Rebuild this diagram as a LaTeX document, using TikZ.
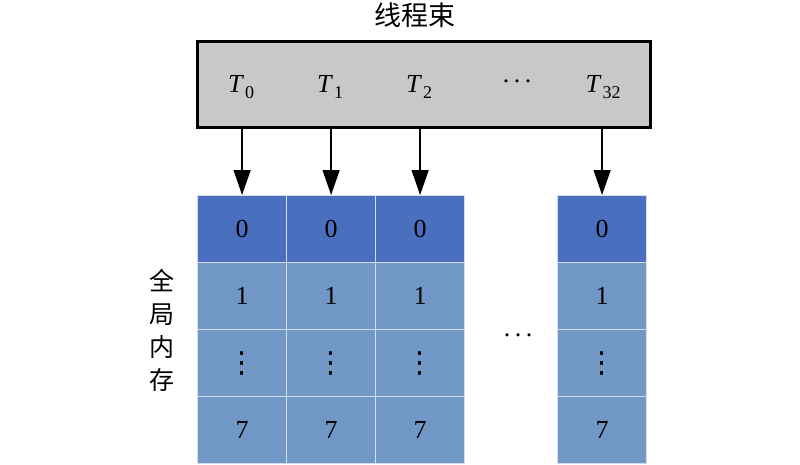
\documentclass[tikz,border=0pt]{standalone}
\usepackage{fontspec}
\setmainfont{Liberation Serif}
\newfontfamily\cjk{Noto Sans CJK SC}
\newfontfamily\dejasans{DejaVu Sans}
\usetikzlibrary{arrows.meta}
\definecolor{darkcell}{HTML}{4A6FBE}
\definecolor{lightcell}{HTML}{7097C5}
\definecolor{gridline}{HTML}{D5DCEA}
\definecolor{warpgray}{HTML}{C8C8C8}
\tikzset{
  cell/.style={draw=gridline, line width=1.2pt, minimum width=89pt, minimum height=67pt, inner sep=0pt, anchor=north west, font=\fontsize{26}{26}\selectfont},
  head/.style={cell, fill=darkcell},
  body/.style={cell, fill=lightcell},
  arr/.style={line width=1.4pt, -{Triangle[length=25pt,width=17pt]}},
  tlab/.style={font=\fontsize{26}{26}\selectfont},
}
\newcommand{\Tsub}[1]{\textit{T}\kern1pt\raisebox{-6pt}{\fontsize{18}{18}\selectfont #1}}
\newcommand{\vdotsmark}{\raisebox{-6pt}{\dejasans\fontsize{29}{29}\selectfont ⋮}}
\newcommand{\hdotsmark}{{\fontsize{26}{26}\selectfont .\kern4.5pt.\kern4.5pt.}}
\begin{document}
\begin{tikzpicture}[x=1pt,y=-1pt]
\useasboundingbox (0,0) rectangle (800,464);
% title
\node[font=\cjk\fontsize{27}{27}\selectfont] (title) at (415,15) {线程束};
% warp box
\node[draw=black, fill=warpgray, line width=3pt, minimum width=453pt, minimum height=86pt, inner sep=0pt] (warp) at (423.5,84) {};
\node[tlab] (t0) at (241,87) {\Tsub{0}};
\node[tlab] (t1) at (330,87) {\Tsub{1}};
\node[tlab] (t2) at (419,87) {\Tsub{2}};
\node[inner sep=0pt, anchor=base] (tdots) at (517,82) {\hdotsmark};
\node[tlab] (t32) at (603,87) {\Tsub{32}};
% columns
\foreach \c/\x in {1/197,2/286,3/375,4/557}{
  \node[head] (c\c r0) at (\x,195) {0};
  \node[body] (c\c r1) at (\x,262) {1};
  \node[body] (c\c r2) at (\x,329) {\vdotsmark};
  \node[body] (c\c r3) at (\x,396) {7};
}
% arrows
\foreach \c in {1,2,3,4}{
  \draw[arr] (c\c r0.north |- warp.south) -- (c\c r0.north);
}
% middle dots
\node[inner sep=0pt, anchor=base] (mdots) at (518,336) {\hdotsmark};
% side label
\node[align=center, font=\cjk\fontsize{25}{33}\selectfont, inner sep=0pt] (mem) at (162,330) {全\\局\\内\\存};
\end{tikzpicture}
\end{document}
